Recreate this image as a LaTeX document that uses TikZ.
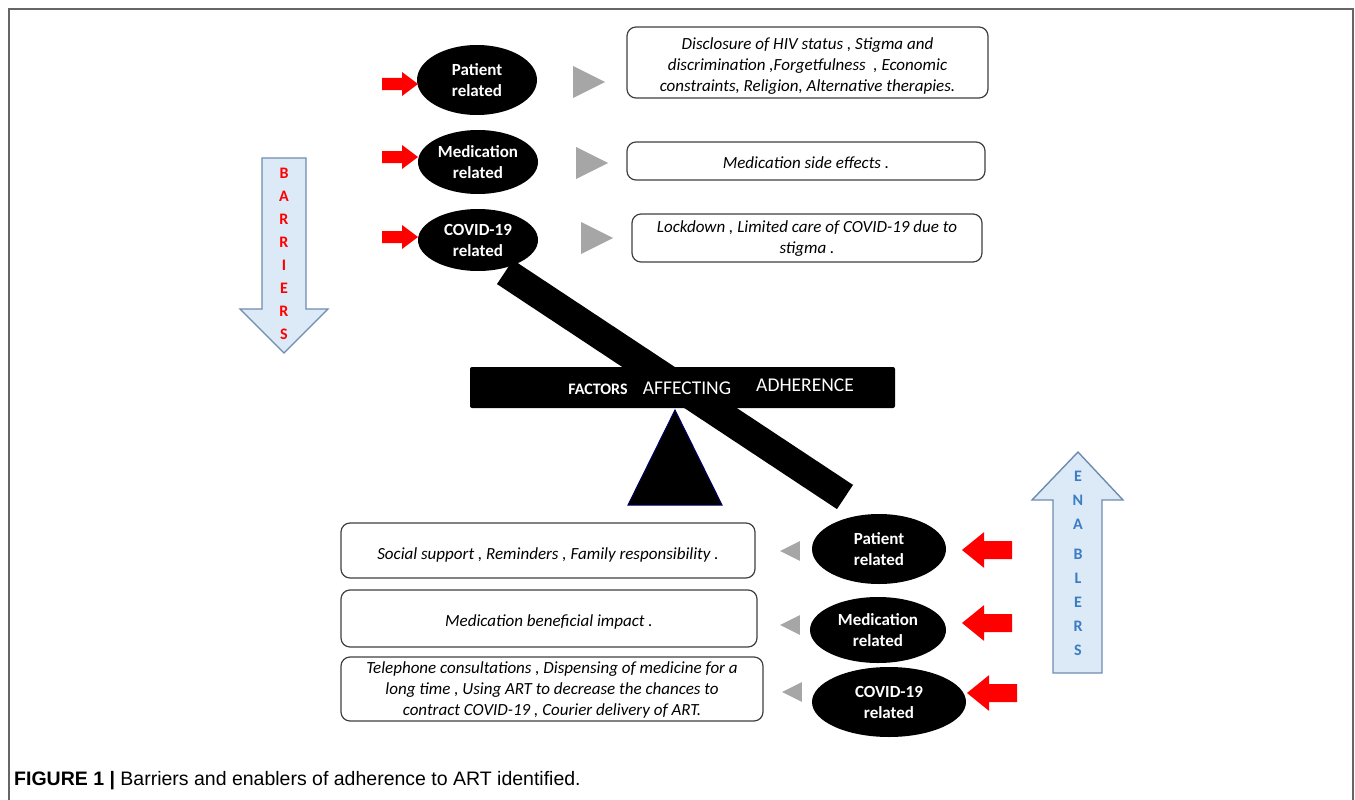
\documentclass[tikz,border=0pt]{standalone}
\usepackage{fontspec}
\setmainfont{Carlito}
\newfontfamily\capfont{Liberation Sans}
\usepackage{xcolor}
\usepackage{tikz}
\usetikzlibrary{shapes.geometric}
\usetikzlibrary{positioning}

\definecolor{arrowfill}{HTML}{DCE9F6}
\definecolor{arrowline}{HTML}{6E8CAE}
\definecolor{enablue}{HTML}{3B7DC4}
\definecolor{tri}{HTML}{A6A6A6}

\tikzset{
  factor/.style={ellipse, fill=black, text=white, align=center, inner sep=0pt,
    font=\bfseries\fontsize{17}{21}\selectfont},
  itembox/.style={draw=black!75, line width=1.2pt, rounded corners=9pt, fill=white, inner sep=0pt},
  boxtext/.style={align=center, inner sep=0pt, font=\itshape\fontsize{17}{21}\selectfont},
  frame/.style={draw=black!60, line width=2pt},
  bigarrow/.style={fill=arrowfill, draw=arrowline, line width=1.4pt},
  redarr/.pic={\fill[red] (-18,-6) -- (2,-6) -- (2,-12) -- (18,0) -- (2,12) -- (2,6) -- (-18,6) -- cycle;},
  greytri/.pic={\fill[tri] (-16,-16) -- (16,0) -- (-16,16) -- cycle;}
}

\begin{document}
\begin{tikzpicture}[x=1pt, y=-1pt]
  \useasboundingbox (0,0) rectangle (1355,800);
  \draw[frame] (9,800) -- (9,9) -- (1353,9) -- (1353,800);

  % Seesaw
  \coordinate (beam_top) at (505,272);
  \coordinate (beam_bot) at (845,497);
  \draw[line width=29pt] (beam_top) -- (beam_bot);
  \node[fill=black, rounded corners=2pt, minimum width=425pt, minimum height=41pt] (bar) at (682.5,387.5) {};
  \filldraw[fill=black, draw=blue!40!black, line width=1pt] (675,410) -- (722,505) -- (628,505) -- cycle;
  \node[text=white, font=\bfseries\fontsize{16}{18}\selectfont] (w_factors) at (598,389) {FACTORS};
  \node[text=white, font=\fontsize{19.5}{22}\selectfont] (w_affecting) at (687,388) {AFFECTING};
  \node[text=white, font=\fontsize{19.5}{22}\selectfont] (w_adherence) at (805,385) {ADHERENCE};

  % Barriers
  \node[factor, minimum width=120pt, minimum height=70pt] (pat_b) at (477,80) {Patient\\related};
  \node[factor, minimum width=120pt, minimum height=64pt] (med_b) at (478,162) {Medication\\related};
  \node[factor, minimum width=120pt, minimum height=62pt] (cov_b) at (478,240) {COVID-19\\related};

  \node[itembox, minimum width=361pt, minimum height=71pt] (box_pb) at (807.5,62.5) {};
  \node[boxtext] at ([yshift=-4pt]box_pb.center)
    {Disclosure of HIV status , Stigma and\\discrimination ,Forgetfulness~ , Economic\\constraints, Religion, Alternative therapies.};
  \node[itembox, minimum width=358pt, minimum height=38pt] (box_mb) at (806,161) {};
  \node[boxtext] at ([yshift=-2pt]box_mb.center) {Medication side effects .};
  \node[itembox, minimum width=350pt, minimum height=48pt] (box_cb) at (807,238) {};
  \node[boxtext] at ([yshift=-1pt]box_cb.center) {Lockdown , Limited care of COVID-19 due to\\stigma .};

  \pic at (400,84) {redarr};
  \pic at (400,157) {redarr};
  \pic at (400,237) {redarr};
  \pic at (589,82) {greytri};
  \pic at (592,163) {greytri};
  \pic at (597,238) {greytri};

  \filldraw[bigarrow] (262,158) -- (306,158) -- (306,309) -- (328,309) -- (284,353)
    -- (240,309) -- (262,309) -- cycle;
  \node[text=red, align=center, font=\bfseries\fontsize{16}{23.1}\selectfont] (w_barriers) at (284,254)
    {B\\A\\R\\R\\I\\E\\R\\S};

  % Enablers
  \node[factor, minimum width=134pt, minimum height=70pt] (pat_e) at (879,549) {Patient\\related};
  \node[factor, minimum width=136pt, minimum height=66pt] (med_e) at (878,630) {Medication\\related};
  \node[factor, minimum width=154pt, minimum height=70pt] (cov_e) at (889,702) {COVID-19\\related};

  \node[itembox, minimum width=414pt, minimum height=55pt] (box_pe) at (548,550.5) {};
  \node[boxtext] at ([yshift=-4pt]box_pe.center) {Social support , Reminders , Family responsibility .};
  \node[itembox, minimum width=416pt, minimum height=57pt] (box_me) at (549,618.5) {};
  \node[boxtext] at ([yshift=-3pt]box_me.center) {Medication beneficial impact .};
  \node[itembox, minimum width=422pt, minimum height=64pt] (box_ce) at (552,689) {};
  \node[boxtext] at ([yshift=-1pt]box_ce.center)
    {Telephone consultations , Dispensing of medicine for a\\long time , Using ART to decrease the chances to\\contract COVID-19 , Courier delivery of ART.};

  \pic[xscale=-1.39, yscale=1.5] at (987,550) {redarr};
  \pic[xscale=-1.39, yscale=1.5] at (987,623) {redarr};
  \pic[xscale=-1.39, yscale=1.5] at (992,693) {redarr};
  \pic[xscale=-0.62, yscale=0.62] at (790,551) {greytri};
  \pic[xscale=-0.62, yscale=0.62] at (790,625) {greytri};
  \pic[xscale=-0.62, yscale=0.62] at (792,692) {greytri};

  \filldraw[bigarrow] (1053,673) -- (1053,500) -- (1032,500) -- (1078,452) -- (1123,500)
    -- (1102,500) -- (1102,673) -- cycle;
  \node[text=enablue, align=center, font=\bfseries\fontsize{16}{24}\selectfont] (w_enablers) at (1078,563)
    {E\\N\\A\\[6pt]B\\L\\E\\R\\S};

  % Caption
  \node[anchor=base west, inner sep=0pt, font=\capfont\fontsize{19.5}{22}\selectfont] (caption) at (14,785)
    {\textbf{FIGURE 1 |} Barriers and enablers of adherence to ART identified.};
\end{tikzpicture}
\end{document}
